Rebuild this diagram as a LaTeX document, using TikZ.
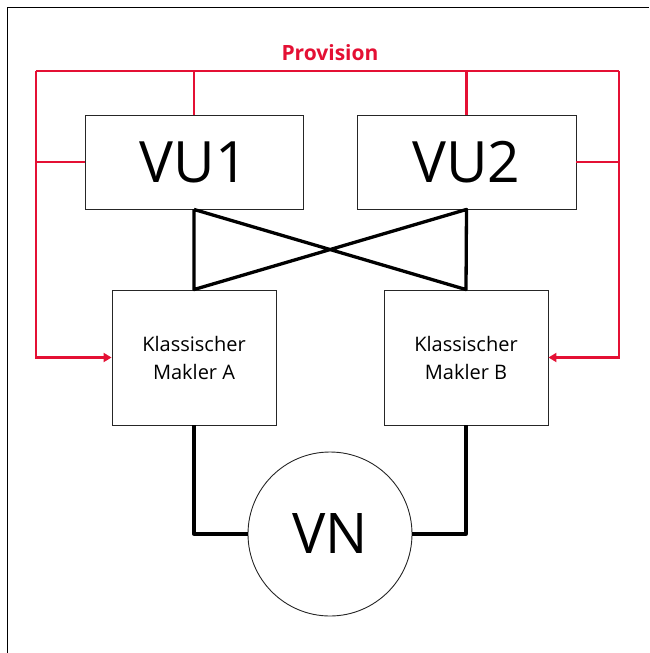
\documentclass[tikz,border=0pt]{standalone}
\usepackage{fontspec}
\setmainfont{Open Sans}
\usetikzlibrary{arrows.meta}
\definecolor{provred}{RGB}{228,16,52}
\begin{document}
\begin{tikzpicture}[x=1pt,y=-1pt,
  box/.style={draw=black!85,line width=0.9pt,inner sep=0pt},
  thick line/.style={line width=3.3pt,line join=round},
  redline/.style={draw=provred,line width=2.2pt},
  redarrow/.style={redline,-{Triangle[length=8pt,width=9pt]}}]
\useasboundingbox (0,0) rectangle (649,653);
\draw[line width=1pt] (7,653) -- (7,7.5) -- (649,7.5);
% boxes
\node[box,minimum width=218pt,minimum height=94pt] (vu1) at (194,162) {\fontsize{57}{60}\selectfont VU1};
\node[box,minimum width=219pt,minimum height=94pt] (vu2) at (466.5,162) {\fontsize{57}{60}\selectfont VU2};
\node[box,minimum width=164pt,minimum height=135pt,align=center,font=\fontsize{20}{28}\selectfont] (ma) at (194,357.5) {Klassischer\\Makler A};
\node[box,minimum width=164pt,minimum height=135pt,align=center,font=\fontsize{20}{28}\selectfont] (mb) at (466,357.5) {Klassischer\\Makler B};
\node[draw=black!85,line width=0.9pt,circle,minimum size=164pt,inner sep=0pt] (vn) at (330,534) {\fontsize{56}{58}\selectfont VN};
\node[text=provred,font=\bfseries\fontsize{21}{22}\selectfont] (prov) at (330,53) {Provision};
% black thick connectors
\draw[thick line] (vu1.south) -- (ma.north) -- (vu2.south) -- (mb.north) -- (vu1.south);
\draw[thick line] (ma.south) |- (vn.west);
\draw[thick line] (mb.south) |- (vn.east);
% red provision lines
\coordinate (tl) at (36,71);
\coordinate (tr) at (619,71);
\draw[redline] (vu1.north) -- (vu1.north |- tl);
\draw[redline] (vu2.north) -- (vu2.north |- tr);
\draw[redline] (tl) -- (tr);
\draw[redarrow,line join=miter] (tl) |- (ma.west);
\draw[redarrow,line join=miter] (tr) |- (mb.east);
\draw[redline] (vu1.west) -- (vu1.west -| tl);
\draw[redline] (vu2.east) -- (vu2.east -| tr);
\end{tikzpicture}
\end{document}
